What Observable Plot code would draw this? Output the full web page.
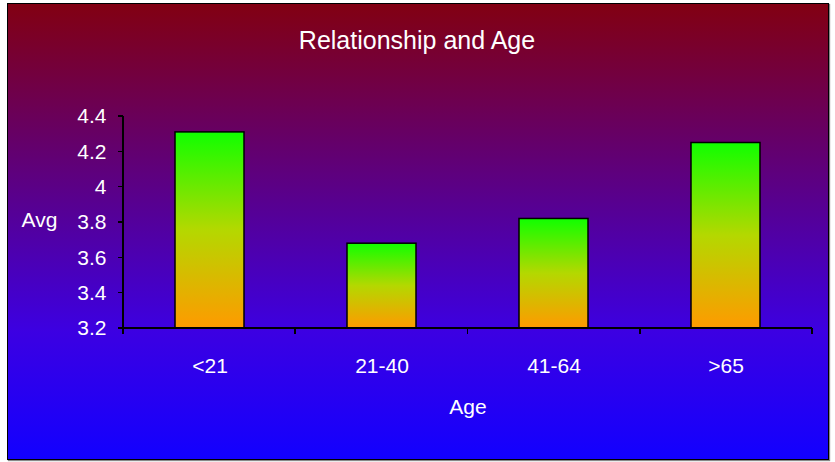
<!DOCTYPE html>
<html>
<head>
<meta charset="utf-8">
<script src="https://cdn.jsdelivr.net/npm/d3@7"></script>
<script src="https://cdn.jsdelivr.net/npm/@observablehq/plot@0.6"></script>
<style>
  html, body { margin: 0; padding: 0; background: #ffffff; }
  #wrap { position: relative; width: 835px; height: 462px; overflow: hidden; }
  #bg {
    position: absolute; left: 7px; top: 3px; width: 820px; height: 455px;
    border: 1.5px solid #000;
    box-shadow: 1px 1px 1px #888;
    background: linear-gradient(to bottom, #820012 0%, #3c00e2 72%, #1200ff 100%);
  }
  #chart { position: absolute; left: 0; top: 0; }
  #chart svg { background: transparent; font-family: "Liberation Sans", Arial, sans-serif; }
</style>
</head>
<body>
<div id="wrap"><div id="bg"></div><div id="chart"></div></div>
<script>
const title = "Relationship and Age";
const xLabel = "Age";
const yLabel = "Avg";
const categories = ["<21", "21-40", "41-64", ">65"];
const values = [4.31, 3.68, 3.82, 4.25];
const yTicks = [3.2, 3.4, 3.6, 3.8, 4.0, 4.2, 4.4];

const data = categories.map((c, i) => ({cat: c, value: values[i]}));

const axisLines = (index, scales, values, dim) => {
  const g = d3.create("svg:g").attr("stroke", "#000").attr("stroke-width", 1.6).attr("shape-rendering", "crispEdges");
  const n = categories.length;
  const x0 = dim.marginLeft, x1 = dim.width - dim.marginRight;
  const yb = dim.height - dim.marginBottom;
  g.append("line").attr("x1", x0 - 5).attr("x2", x1).attr("y1", yb).attr("y2", yb);
  for (let i = 0; i <= n; i++) {
    const xx = x0 + i * (x1 - x0) / n;
    g.append("line").attr("x1", xx).attr("x2", xx).attr("y1", yb).attr("y2", yb + 6);
  }
  g.append("line").attr("x1", x0).attr("x2", x0).attr("y1", dim.marginTop).attr("y2", yb + 6);
  for (const t of yTicks) {
    const yy = scales.y(t);
    g.append("line").attr("x1", x0 - 5).attr("x2", x0).attr("y1", yy).attr("y2", yy);
  }
  return g.node();
};

const chart = Plot.plot({
  width: 835,
  height: 462,
  marginLeft: 123,
  marginRight: 23,
  marginTop: 116,
  marginBottom: 134,
  style: {background: "transparent", fontFamily: "Liberation Sans, Arial, sans-serif"},
  x: {domain: categories, type: "band", paddingInner: 0.6, paddingOuter: 0.3, axis: null},
  y: {domain: [3.2, 4.4], axis: null},
  marks: [
    Plot.barY(data, {x: "cat", y1: 3.2, y2: "value", fill: "url(#barGrad)", stroke: "#000", strokeWidth: 1.5}),
    axisLines,
    Plot.axisY({ticks: yTicks, tickSize: 0, tickPadding: 17, fontSize: 21, color: "#fff", tickFormat: d => String(+d.toFixed(1)), label: null}),
    Plot.axisX({tickSize: 0, tickPadding: 30, fontSize: 21, color: "#fff", label: null}),
    Plot.text([title], {text: d => d, frameAnchor: "top", lineAnchor: "middle", dx: -51, dy: -76, fontSize: 25, fill: "#fff"}),
    Plot.text([xLabel], {text: d => d, frameAnchor: "bottom", lineAnchor: "middle", dy: 79, fontSize: 21, fill: "#fff"}),
    Plot.text([yLabel], {text: d => d, frameAnchor: "left", textAnchor: "middle", lineAnchor: "middle", dx: -84, dy: -2, fontSize: 21, fill: "#fff"})
  ]
});

const defs = d3.select(chart).insert("defs", ":first-child");
const grad = defs.append("linearGradient").attr("id", "barGrad")
  .attr("x1", 0).attr("y1", 0).attr("x2", 0).attr("y2", 1);
grad.append("stop").attr("offset", "0%").attr("stop-color", "#10ff00");
grad.append("stop").attr("offset", "50%").attr("stop-color", "#b4d800");
grad.append("stop").attr("offset", "100%").attr("stop-color", "#ff9a00");

document.getElementById("chart").appendChild(chart);
</script>
</body>
</html>
